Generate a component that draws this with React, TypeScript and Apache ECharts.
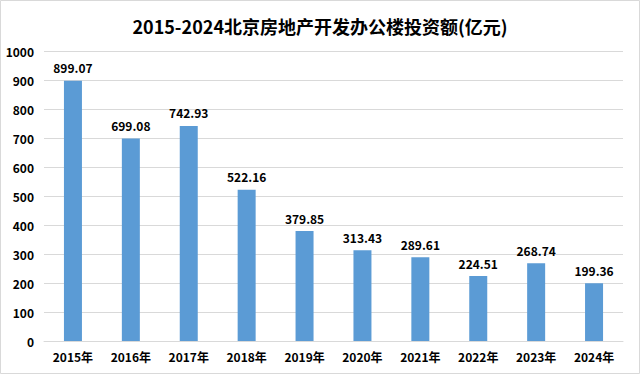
import React, { useEffect, useRef } from "react";
import * as echarts from "echarts";

const categories = ["2015年", "2016年", "2017年", "2018年", "2019年", "2020年", "2021年", "2022年", "2023年", "2024年"];
const values = [899.07, 699.08, 742.93, 522.16, 379.85, 313.43, 289.61, 224.51, 268.74, 199.36];
const titleText = "2015-2024北京房地产开发办公楼投资额(亿元)";

const font = "'Noto Sans CJK SC', 'Open Sans', sans-serif";

export default function App() {
  const ref = useRef<HTMLDivElement>(null);
  useEffect(() => {
    if (!ref.current) return;
    const chart = echarts.init(ref.current, undefined, { renderer: "svg" });
    chart.setOption({
      animation: false,
      backgroundColor: "#ffffff",
      title: {
        text: titleText,
        left: "center",
        top: 12,
        textStyle: { fontFamily: font, fontSize: 18, fontWeight: "bold", color: "#000" },
      },
      graphic: [
        {
          type: "rect",
          shape: { x: 0.5, y: 0.5, width: 639, height: 373 },
          style: { fill: "none", stroke: "#d9d9d9", lineWidth: 1 },
          silent: true,
        },
      ],
      grid: { left: 44, right: 17, top: 51.5, bottom: 33 },
      xAxis: {
        type: "category",
        data: categories,
        axisTick: { show: false },
        axisLine: { lineStyle: { color: "#d9d9d9" } },
        axisLabel: { fontFamily: font, fontSize: 12, fontWeight: "bold", color: "#000", margin: 9 },
      },
      yAxis: {
        type: "value",
        min: 0,
        max: 1000,
        interval: 100,
        axisLine: { show: false },
        axisTick: { show: false },
        splitLine: { lineStyle: { color: "#d9d9d9" } },
        axisLabel: {
          fontFamily: font,
          fontSize: 12,
          fontWeight: "bold",
          color: "#000",
          margin: 10,
          formatter: (v: number) => String(v),
        },
      },
      series: [
        {
          type: "bar",
          data: values,
          barWidth: 18,
          itemStyle: { color: "#5b9bd5" },
          label: {
            show: true,
            position: "top",
            distance: 7,
            fontFamily: font,
            fontSize: 12,
            fontWeight: "bold",
            color: "#000",
            formatter: (p: any) => p.value.toFixed(2),
          },
        },
      ],
    });
    return () => chart.dispose();
  }, []);
  return (
    <div
      ref={ref}
      style={{ position: "fixed", left: 0, top: 0, width: 640, height: 374 }}
    />
  );
}
